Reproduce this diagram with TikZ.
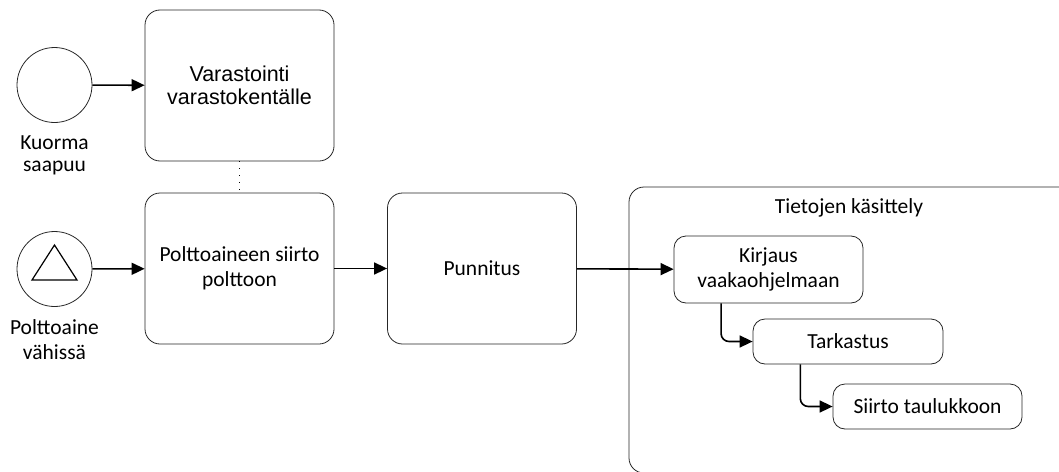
\documentclass[tikz,border=0pt]{standalone}
\usepackage{fontspec}
\setmainfont{Carlito}
\newfontfamily\arialfont{Liberation Sans}
\usetikzlibrary{arrows.meta,positioning,calc}

\begin{document}
\begin{tikzpicture}[
  x=1pt,y=-1pt,
  font=\fontsize{21.5}{25.5}\selectfont,
  task/.style={draw=black!85,line width=0.8pt,rounded corners=15pt,align=center,
    minimum width=189pt,minimum height=151pt,inner sep=0pt},
  subtask/.style={draw=black!85,line width=0.8pt,rounded corners=12pt,align=center,
    minimum width=189pt,inner sep=0pt},
  event/.style={draw=black!85,line width=0.8pt,circle,minimum size=75pt,inner sep=0pt},
  flow/.style={-{Triangle[length=13pt,width=12pt]},line width=1.6pt}
]
  \useasboundingbox (0,0) rectangle (1059,471);
  \clip (0,0) rectangle (1059,471);

  % start events
  \node[event] (arrival) at (54.5,85) {};
  \node[align=center,font=\fontsize{21.5}{22.5}\selectfont] (arrivaltext) at (54.5,155.5)
    {Kuorma\\saapuu};
  \node[event] (lowfuel) at (54.5,269) {};
  \node[align=center] (lowfueltext) at (54.5,339.5) {Polttoaine\\vähissä};
  \draw[line width=1.2pt,line join=miter]
    ($(lowfuel)+(0,-24)$) -- ($(lowfuel)+(22.5,11)$) -- ($(lowfuel)+(-22.5,11)$) -- cycle;

  % main tasks
  \node[task,font=\arialfont\fontsize{21.5}{22.5}\selectfont] (storage) at (239.5,85.5)
    {Varastointi\\varastokentälle};
  \node[task] (transfer) at (239.5,268.5) {Polttoaineen siirto\\polttoon};
  \node[task] (weighing) at (482,268.5) {Punnitus};

  % data handling group
  \draw[draw=black!85,line width=0.8pt,rounded corners=15pt]
    (629,187) rectangle (1075,473);
  \node (grouptitle) at (849,208) {Tietojen käsittely};
  \node[subtask,minimum height=67pt] (record) at (768.5,269.5) {Kirjaus\\vaakaohjelmaan};
  \node[subtask,minimum width=190pt,minimum height=45pt] (check) at (848,341.5) {Tarkastus};
  \node[subtask,minimum height=45pt] (table) at (927.5,406.5) {Siirto taulukkoon};

  \draw[line width=0.8pt,dash pattern=on 1pt off 6pt] (storage.south) -- (transfer.north);

  \path[flow]
    (arrival) edge (storage)
    (lowfuel) edge (transfer)
    (transfer) edge (weighing)
    (weighing) edge (record);
  \draw[flow,rounded corners=8pt]
    ($(record.south west)!0.25!(record.south east)$) |- (check.west);
  \draw[flow,rounded corners=8pt]
    ($(check.south west)!0.25!(check.south east)$) |- (table.west);
\end{tikzpicture}
\end{document}
